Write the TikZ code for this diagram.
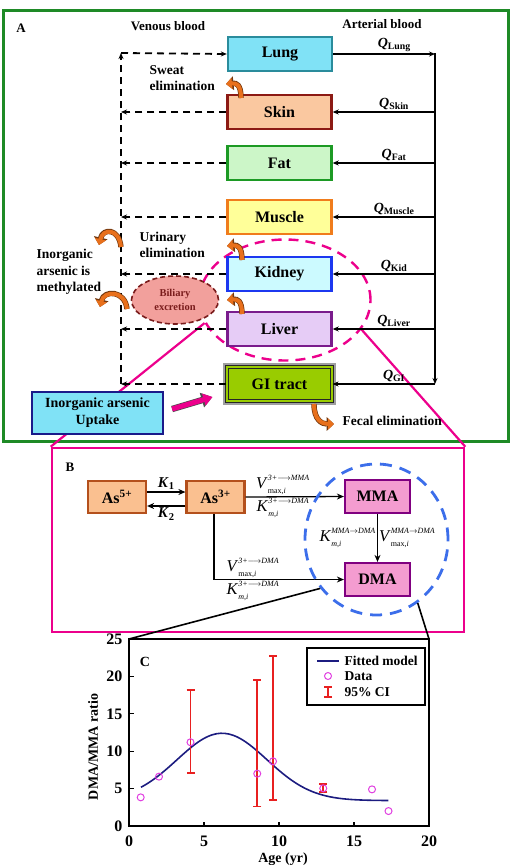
\documentclass[tikz,border=0pt]{standalone}
\usepackage{fontspec}
\setmainfont{Liberation Serif}
\usetikzlibrary{arrows.meta,shapes.geometric,calc,positioning}

\definecolor{panelgreen}{HTML}{1E8A26}
\definecolor{filllung}{HTML}{80E2F6}   \definecolor{linelung}{HTML}{2A8C9C}
\definecolor{fillskin}{HTML}{FAC8A0}   \definecolor{lineskin}{HTML}{8C1A14}
\definecolor{fillfat}{HTML}{CCF6C8}    \definecolor{linefat}{HTML}{1C9A24}
\definecolor{fillmuscle}{HTML}{FFFF99} \definecolor{linemuscle}{HTML}{F07C1C}
\definecolor{fillkidney}{HTML}{CCFAFF} \definecolor{linekidney}{HTML}{1C38F0}
\definecolor{fillliver}{HTML}{E6CCF6}  \definecolor{lineliver}{HTML}{7A1C8C}
\definecolor{fillgi}{HTML}{99CC00}
\definecolor{fillup}{HTML}{80E2F6}     \definecolor{lineup}{HTML}{1A1A8A}
\definecolor{fillbile}{HTML}{F2A09C}   \definecolor{linebile}{HTML}{7A1C1C}
\definecolor{curlorange}{HTML}{E8701C}
\definecolor{fillas}{HTML}{FAC090}     \definecolor{lineas}{HTML}{B4501C}
\definecolor{fillmet}{HTML}{F49CD0}    \definecolor{linemet}{HTML}{800080}
\definecolor{zoomblue}{HTML}{3C6EEA}
\definecolor{fitblue}{HTML}{1C1C80}
\definecolor{datamag}{HTML}{E040E0}
\definecolor{cired}{HTML}{E82020}

\newcommand{\flowQ}[1]{\textbf{\textit{Q}}\textsubscript{\textbf{#1}}}
\newcommand{\kin}[3]{\textit{#1}$^{\raisebox{1.5pt}{\fontsize{8}{8}\selectfont\itshape #2}}_{\raisebox{-1pt}{\fontsize{8}{8}\selectfont #3}}$}

\tikzset{
  organ/.style={draw, line width=2.4pt, minimum width=104pt, minimum height=34pt, font=\fontsize{16}{16}\selectfont\bfseries},
  species/.style={draw=lineas, fill=fillas, line width=2.2pt, minimum width=58pt, minimum height=32pt, font=\fontsize{16}{16}\selectfont\bfseries},
  metab/.style={draw=linemet, fill=fillmet, line width=2.2pt, minimum width=65pt, minimum height=33pt, font=\fontsize{16}{16}\selectfont\bfseries},
  side/.style={font=\fontsize{13.5}{16.5}\selectfont\bfseries, align=left},
  title/.style={font=\fontsize{13}{13}\selectfont\bfseries},
  qlab/.style={font=\fontsize{14}{14}\selectfont, inner sep=1.5pt},
  klab/.style={font=\fontsize{15}{15}\selectfont, inner sep=1.5pt},
  rlab/.style={font=\fontsize{16.5}{16.5}\selectfont, inner sep=1pt},
  ticklab/.style={font=\fontsize{16}{16}\selectfont\bfseries},
  artery/.style={line width=1.3pt, -{Stealth[length=6pt,width=5pt]}},
  vein/.style={line width=1.8pt, dash pattern=on 7pt off 5pt, -{Stealth[length=6pt,width=5pt]}},
  flow/.style={line width=1.3pt, -{Stealth[length=7pt,width=6pt]}},
  curl/.style={draw=curlorange, line width=4pt, -{Triangle[length=6pt,width=11pt]},
    preaction={draw=curlorange!50!black, line width=5.4pt, -{Triangle[length=7.5pt,width=13.5pt]}}},
  uptakeflow/.style={draw=magenta, line width=5pt, -{Triangle[length=9pt,width=12pt]},
    preaction={draw=black!70, line width=6.4pt, -{Triangle[length=11pt,width=14.5pt]}}}
}

\begin{document}
\begin{tikzpicture}[x=1pt, y=-1pt]
\useasboundingbox (0,0) rectangle (512,865);
% panel A: whole-body model
\node[draw=panelgreen, line width=3pt, minimum width=505pt, minimum height=431pt] (panelA) at (255.5,225.5) {};
\node[title] (labA) at (21,28) {A};
\node[title] (venous) at (168,26) {Venous blood};
\node[title] (arterial) at (382,24) {Arterial blood};

% zoom frames from A to B, drawn under the boxes
\node[draw=magenta, line width=2.6pt, minimum width=412pt, minimum height=184pt] (panelB) at (258,540) {};
\node[draw=magenta, ellipse, dash pattern=on 10pt off 7pt, line width=2.4pt, minimum width=171pt, minimum height=121pt] (focus) at (285,300) {};
\draw[magenta, line width=2.2pt] (focus.196) -- (panelB.north west);
\draw[magenta, line width=2.2pt] (focus.-21) -- (panelB.north east);

\node[organ, fill=filllung, draw=linelung] (lung) at (280,54) {Lung};
\foreach \n/\t/\y in {skin/Skin/112, fat/Fat/163, muscle/Muscle/217, kidney/Kidney/274, liver/Liver/329}
  \node[organ, fill=fill\n, draw=line\n] (\n) at (279.5,\y) {\t};
\node[organ, minimum width=105pt, minimum height=34pt, fill=fillgi, draw=black!85, line width=1.1pt,
  double=fillgi, double distance=2pt, preaction={draw=gray!75, line width=8pt}] (gi) at (279.5,384) {GI tract};

% arterial side
\coordinate (atop) at (435,53);
\coordinate (vtop) at (121,53);
\draw[artery] (lung.east) -- (lung.east -| atop) node[pos=0.6, above, qlab] {\flowQ{Lung}};
\draw[artery] (atop) -- (atop |- gi.east);
\foreach \n/\q in {skin/Skin, fat/Fat, muscle/Muscle, kidney/Kid, liver/Liver, gi/GI}
  \draw[artery] (atop |- \n.east) -- (\n.east) node[pos=0.4, above, qlab] {\flowQ{\q}};

% venous side
\foreach \n in {skin,fat,muscle,kidney,liver,gi}
  \draw[vein] (\n.west) -- (vtop |- \n.west);
\draw[vein] (vtop |- gi.west) -- (vtop);
\draw[vein] (vtop) -- (lung.west);

\node[draw=linebile, fill=fillbile, ellipse, dash pattern=on 5pt off 3pt, line width=1.6pt, minimum width=87pt, minimum height=48pt,
  font=\fontsize{10.5}{13.5}\selectfont\bfseries, text=linebile, align=center] (bile) at (175,300) {Biliary\\excretion};

\node[side, anchor=west] (sweat) at (146,78) {Sweat\\elimination};
\node[side, anchor=west] (urine) at (136,245) {Urinary\\elimination};
\node[side, anchor=west] (methyl) at (33,272) {Inorganic\\arsenic is\\methylated};
\node[side, anchor=west] (fecal) at (339,421) {Fecal elimination};

% elimination arrows
\draw[curl] (241,98) .. controls (241,84) and (236,83) .. (226,84);
\draw[curl] (242,260) .. controls (242,246) and (237,245) .. (227,246);
\draw[curl] (242,314) .. controls (242,300) and (237,299) .. (227,300);
\draw[curl] (121,247) .. controls (119,228) and (103,228) .. (99,245);
\draw[curl] (127,309) .. controls (125,290) and (104,290) .. (100,307);
\draw[curl] (314,404) .. controls (314,420) and (322,424) .. (334,424);

\node[draw=lineup, fill=fillup, line width=2.2pt, minimum width=131pt, minimum height=42pt, align=center,
  font=\fontsize{14}{17}\selectfont\bfseries] (uptake) at (97.5,413) {Inorganic arsenic\\Uptake};
\draw[uptakeflow] ($(uptake.east)+(8,-4)$) -- ($(gi.west)+(-14,13)$);

% panel B: methylation
\node[title] (labB) at (70,467) {B};
\node[species] (as5) at (117,497) {As\textsuperscript{5+}};
\node[species] (as3) at (215.5,497) {As\textsuperscript{3+}};
\node[metab] (mma) at (377.5,496.5) {MMA};
\node[metab] (dma) at (377.5,579.5) {DMA};

\draw[flow] ([yshift=5pt]as5.east) -- ([yshift=5pt]as3.west) node[midway, above, klab] {\textbf{\textit{K}}\textsubscript{\textbf{1}}};
\draw[flow] ([yshift=-9pt]as3.west) -- ([yshift=-9pt]as5.east) node[midway, below, klab] {\textbf{\textit{K}}\textsubscript{\textbf{2}}};
\draw[flow] (as3.east) -- (mma.west)
  node[pos=0.38, above, rlab] {\kin{V}{3+$\longrightarrow$MMA}{max,\textit{i}}}
  node[pos=0.38, below, rlab] {\kin{K}{3+$\longrightarrow$DMA}{\textit{m,i}}};
\draw[flow] ([xshift=-1.5pt]as3.south) |- (dma.west)
  node[pos=0.65, above, rlab] {\kin{V}{3+$\longrightarrow$DMA}{max,\textit{i}}}
  node[pos=0.65, below, rlab] {\kin{K}{3+$\longrightarrow$DMA}{\textit{m,i}}};
\draw[flow] (mma) -- (dma)
  node[midway, left, rlab] {\kin{K}{MMA$\rightarrow$DMA}{\textit{m,i}}}
  node[midway, right, rlab] {\kin{V}{MMA$\rightarrow$DMA}{max,\textit{i}}};

\node[draw=zoomblue, ellipse, dash pattern=on 12pt off 8pt, line width=2.8pt, minimum width=143pt, minimum height=151pt] (focusB) at (376.5,539.5) {};

% panel C: DMA/MMA ratio against age
\node[draw, line width=1.8pt, minimum width=300pt, minimum height=187pt, inner sep=0pt, outer sep=0pt] (plotC) at (279,732.5) {};
\draw[line width=1.6pt] (focusB.221) -- (plotC.north west);
\draw[line width=1.6pt] (focusB.-57) -- (plotC.north east);

\begin{scope}[shift={(plotC.south west)}, x=15pt, y=7.48pt]
  \foreach \t in {0,5,...,20} {
    \draw[line width=1.2pt] (\t,0) -- (\t,0.55);
    \node[ticklab] at (\t,-2.0) {\t};
  }
  \foreach \t in {0,5,...,25} {
    \draw[line width=1.2pt] (0,\t) -- (0.3,\t);
    \node[ticklab, anchor=east] at (-0.2,\t) {\t};
  }
  \node[font=\fontsize{14}{14}\selectfont\bfseries] (labC) at (1.07,21.9) {C};
  \draw[fitblue, line width=1.6pt] plot[domain=0.8:17.3, samples=60, smooth] (\x, {3.4+9*exp(-((\x-6.2)^2)/18)});
  \foreach \xx/\lo/\hi in {4.1/6.95/18.3, 8.55/2.5/19.6, 9.6/3.35/22.8, 12.95/4.4/5.7}
    \draw[cired, line width=1.8pt, {Bar[width=8pt]}-{Bar[width=8pt]}] (\xx,\lo) -- (\xx,\hi);
  \foreach \xx/\yy in {0.78/3.83, 2.0/6.6, 4.1/11.2, 8.55/7.0, 9.6/8.65, 12.95/5.04, 16.2/4.9, 17.3/2.0}
    \draw[datamag, line width=1pt] (\xx,\yy) circle[radius=3.5pt];
\end{scope}

\node[font=\fontsize{14}{14}\selectfont\bfseries, rotate=90] (ylab) at (93,747) {DMA/MMA ratio};
\node[font=\fontsize{14}{14}\selectfont\bfseries] (xlab) at (283,859) {Age (yr)};

% legend
\node[draw, line width=1.4pt, minimum width=118pt, minimum height=57pt] (legend) at (366,676.5) {};
\draw[fitblue, line width=1.6pt] (317,661) -- (339,661);
\node[side, anchor=west] (legfit) at (341,661) {Fitted model};
\draw[datamag, line width=1pt] (328,676) circle[radius=3.5pt];
\node[side, anchor=west] (legdata) at (341,676) {Data};
\draw[cired, line width=1.8pt, {Bar[width=8pt]}-{Bar[width=8pt]}] (328,686) -- (328,698);
\node[side, anchor=west] (legci) at (341,692) {95\% CI};
\end{tikzpicture}
\end{document}
